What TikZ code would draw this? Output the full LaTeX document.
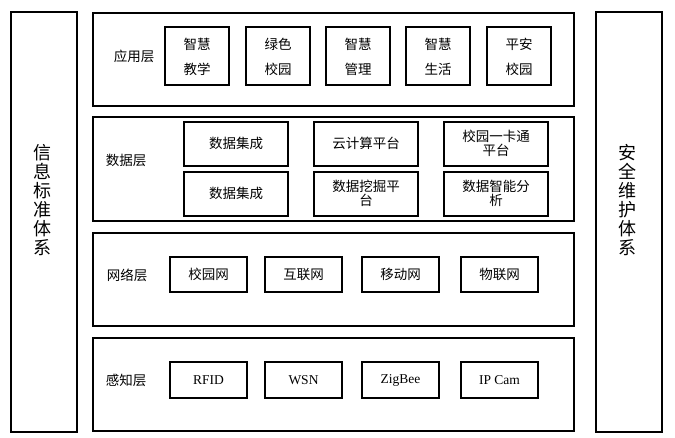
\documentclass[tikz,border=0pt]{standalone}
\usepackage{fontspec}
\setmainfont{Liberation Serif}
\newfontfamily\cjk{Noto Sans CJK SC}
\begin{document}
\begin{tikzpicture}[x=1pt,y=-1pt,
  box/.style={draw,line width=1.4pt},
  tx/.style={font=\cjk\fontsize{13.5}{14}\selectfont,align=center,inner sep=0pt},
  lt/.style={font=\fontsize{13.5}{15}\selectfont,inner sep=0pt}]
\useasboundingbox (0,0) rectangle (675,438);
\draw[box] (11,12) rectangle (77,432);
\draw[box] (596,12) rectangle (662,432);
\node[tx,font=\cjk\fontsize{18}{19}\selectfont] (L) at (42,200) {信\\息\\标\\准\\体\\系};
\node[tx,font=\cjk\fontsize{18}{19}\selectfont] (R) at (627,200) {安\\全\\维\\护\\体\\系};
\draw[box] (93,13) rectangle (574,106);
\draw[box] (93,117) rectangle (574,221);
\draw[box] (93,233) rectangle (574,326);
\draw[box] (93,338) rectangle (574,431);
\node[tx] (l1) at (134,56) {应用层};
\node[tx] (l2) at (126,160) {数据层};
\node[tx] (l3) at (127,275) {网络层};
\node[tx] (l4) at (126,380) {感知层};
\foreach \x/\t [count=\i] in {165/智慧\\[11pt]教学,246/绿色\\[11pt]校园,326/智慧\\[11pt]管理,406/智慧\\[11pt]生活,487/平安\\[11pt]校园}{
  \draw[box] (\x,27) rectangle (\x+64,85);
  \node[tx] (a\i) at (\x+32,57) {\t};
}
\foreach \x/\a/\b [count=\i] in {184/数据集成/数据集成,314/云计算平台/数据挖掘平\\台,444/校园一卡通\\平台/数据智能分\\析}{
  \draw[box] (\x,122) rectangle (\x+104,166);
  \node[tx] (d\i) at (\x+52,143) {\a};
  \draw[box] (\x,172) rectangle (\x+104,216);
  \node[tx] (e\i) at (\x+52,193) {\b};
}
\foreach \x/\t [count=\i] in {170/校园网,265/互联网,362/移动网,461/物联网}{
  \draw[box] (\x,257) rectangle (\x+77,292);
  \node[tx] (n\i) at (\x+38.5,274.5) {\t};
}
\foreach \x/\t [count=\i] in {170/RFID,265/WSN,362/ZigBee,461/IP Cam}{
  \draw[box] (\x,362) rectangle (\x+77,398);
  \node[lt] (p\i) at (\x+38.5,380) {\t};
}
\end{tikzpicture}
\end{document}
